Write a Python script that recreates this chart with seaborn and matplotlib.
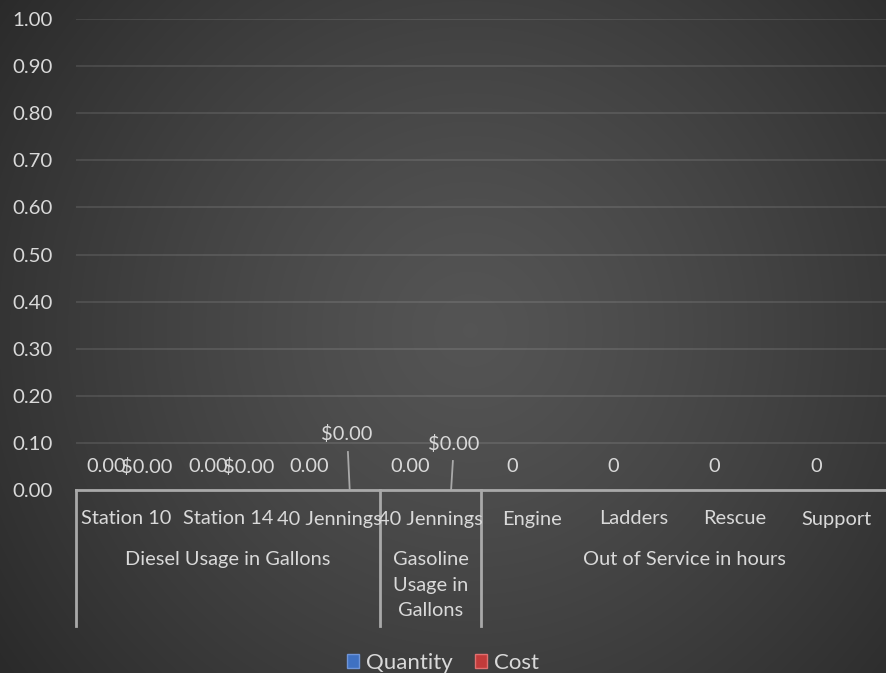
import numpy as np
import pandas as pd
import matplotlib
matplotlib.use("Agg")
import matplotlib.pyplot as plt
from matplotlib.patches import Patch
import seaborn as sns

# ---- data ----
groups = ["Diesel Usage in Gallons", "Diesel Usage in Gallons", "Diesel Usage in Gallons",
          "Gasoline\nUsage in\nGallons",
          "Out of Service in hours", "Out of Service in hours",
          "Out of Service in hours", "Out of Service in hours"]
subcats = ["Station 10", "Station 14", "40 Jennings", "40 Jennings",
           "Engine", "Ladders", "Rescue", "Support"]
quantity = [0.0, 0.0, 0.0, 0.0, 0, 0, 0, 0]
cost = [0.0, 0.0, 0.0, 0.0, None, None, None, None]
qty_decimals = [2, 2, 2, 2, 0, 0, 0, 0]
series = ["Quantity", "Cost"]
yticks = [0.0, 0.1, 0.2, 0.3, 0.4, 0.5, 0.6, 0.7, 0.8, 0.9, 1.0]

# ---- style ----
W, H = 887, 673
TXT = "#d9d9d9"
FONT = ["Lato", "DejaVu Sans"]
plt.rcParams["font.family"] = FONT
COL_Q = "#3f71c2"
COL_C = "#c23b3a"
FS = 14.4

keys = [f"{g}|{s}|{i}" for i, (g, s) in enumerate(zip(groups, subcats))]
rows = []
for k, q, c in zip(keys, quantity, cost):
    rows.append({"key": k, "series": "Quantity", "value": q})
    rows.append({"key": k, "series": "Cost", "value": 0.0 if c is None else c})
df = pd.DataFrame(rows)

fig = plt.figure(figsize=(W / 100, H / 100), dpi=100)

# radial gradient background
bg = fig.add_axes([0, 0, 1, 1], zorder=-10)
yy, xx = np.mgrid[0:H, 0:W]
cx, cy = 470, 330
r = np.sqrt((xx - cx) ** 2 + (yy - cy) ** 2) / 580.0
r = np.clip(r, 0, 1)
v = 0.33 - (0.33 - 0.165) * r ** 1.3
bg.imshow(np.dstack([v, v, v]), aspect="auto", extent=[0, W, H, 0])
bg.axis("off")

left, right, top, bottom = 76, 887, 19, 490
ax = fig.add_axes([left / W, 1 - bottom / H, (right - left) / W, (bottom - top) / H])
ax.set_facecolor("none")

sns.barplot(data=df, x="key", y="value", hue="series", order=keys,
            hue_order=series, palette=[COL_Q, COL_C], errorbar=None,
            width=0.8, ax=ax, legend=False)

ax.set_ylim(0, 1.0)
ax.set_xlim(-0.5, len(keys) - 0.5)
ax.set_yticks(yticks)
ax.set_yticklabels([f"{t:.2f}" for t in yticks])
ax.tick_params(axis="y", length=0, colors=TXT, labelsize=FS + 0.3, pad=17)
ax.set_xticks([])
ax.set_xlabel("")
ax.set_ylabel("")
ax.grid(axis="y", color="white", alpha=0.1, lw=1.5)
ax.set_axisbelow(True)
for s in ["top", "right", "left"]:
    ax.spines[s].set_visible(False)
ax.spines["bottom"].set_color("#a9a9a9")
ax.spines["bottom"].set_linewidth(2)

# ---- data labels ----
cost_offsets = {2: (-3, 56, 38), 3: (3, 46, 29)}
ax_h = bottom - top
for ci, cont in enumerate(ax.containers):
    sname = series[ci]
    for bar in cont:
        xc = bar.get_x() + bar.get_width() / 2
        h = bar.get_height()
        idx = int(round(xc))
        if sname == "Quantity":
            txt = f"{quantity[idx]:.{qty_decimals[idx]}f}"
            ax.annotate(txt, (xc, h), xytext=(0, 23), textcoords="offset pixels",
                        ha="center", va="center", color=TXT, fontsize=FS)
        else:
            if cost[idx] is None:
                continue
            txt = f"${cost[idx]:.2f}"
            if idx in cost_offsets:
                dx, dy, ly = cost_offsets[idx]
                ax.annotate(txt, (xc, h), xytext=(dx, dy), textcoords="offset pixels",
                            ha="center", va="center", color=TXT, fontsize=FS)
                # leader line
                p0 = ax.transData.transform((xc, h))
                p1 = p0 + np.array([dx * 0.6, ly])
                d1 = ax.transData.inverted().transform(p1)
                ax.plot([xc, d1[0]], [h, d1[1]], color="#a9a9a9", lw=1.3,
                        clip_on=False, zorder=5)
            else:
                ax.annotate(txt, (xc, h), xytext=(0, 23), textcoords="offset pixels",
                            ha="center", va="center", color=TXT, fontsize=FS)

# ---- multi-level category axis ----
xt = ax.get_xaxis_transform()
y_sub = -(519 - bottom) / ax_h
y_grp = -(551 - bottom) / ax_h
y_end = -(626 - bottom) / ax_h
for i, s in enumerate(subcats):
    ax.text(i, y_sub, s, transform=xt, ha="center", va="center",
            color=TXT, fontsize=FS)
ordered = []
for i, g in enumerate(groups):
    if not ordered or ordered[-1][0] != g:
        ordered.append([g, i, i])
    else:
        ordered[-1][2] = i
for g, a, b in ordered:
    ax.text((a + b) / 2, y_grp, g, transform=xt, ha="center", va="top",
            color=TXT, fontsize=FS, linespacing=1.62)
    if a == 0:
        ax.plot([a - 0.5, a - 0.5], [0, y_end], transform=xt, color="#a9a9a9",
                lw=2, clip_on=False)
    if b < len(groups) - 1:
        ax.plot([b + 0.5, b + 0.5], [0, y_end], transform=xt, color="#a9a9a9",
                lw=2, clip_on=False)

# ---- legend ----
handles = [Patch(facecolor=COL_Q, edgecolor="#6f95d8", label="Quantity"),
           Patch(facecolor=COL_C, edgecolor="#e07070", label="Cost")]
fig.legend(handles=handles, loc="center", bbox_to_anchor=(443 / W, 1 - 663 / H),
           ncol=2, frameon=False, fontsize=16, labelcolor=TXT,
           handlelength=0.55, handleheight=0.55, handletextpad=0.3, columnspacing=1.0)

fig.savefig("out.png", dpi=100)
